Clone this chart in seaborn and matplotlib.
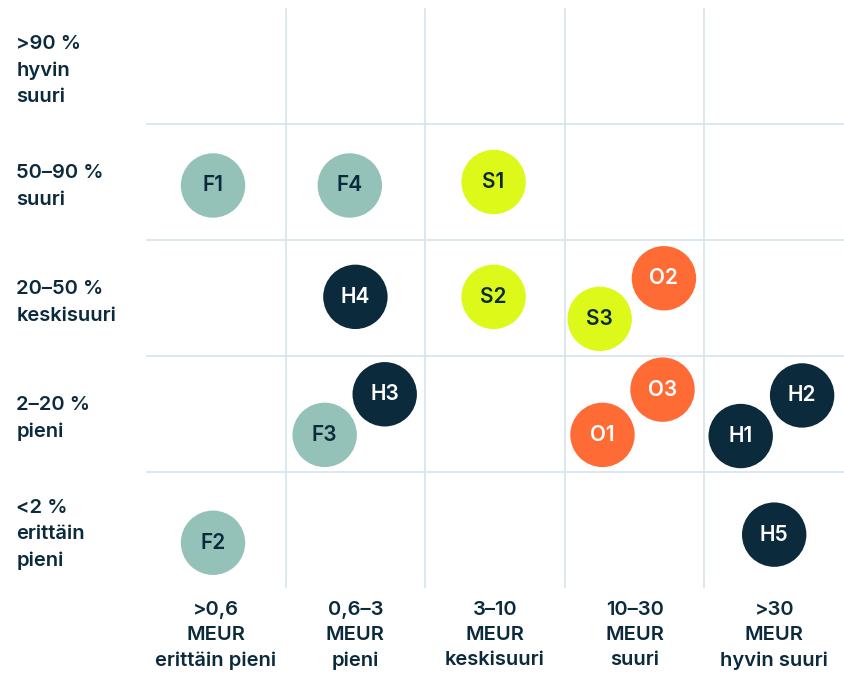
import matplotlib.pyplot as plt
import seaborn as sns
import pandas as pd

# columns: revenue class, rows: share class
x_labels = [">0,6\nMEUR\nerittäin pieni", "0,6–3\nMEUR\npieni", "3–10\nMEUR\nkeskisuuri",
            "10–30\nMEUR\nsuuri", ">30\nMEUR\nhyvin suuri"]
y_labels = ["<2 %\nerittäin\npieni", "2–20 %\npieni", "20–50 %\nkeskisuuri",
            "50–90 %\nsuuri", ">90 %\nhyvin\nsuuri"]

names = ["F1", "F4", "S1", "H4", "S2", "O2", "S3", "H3", "F3", "O3", "O1", "H2", "H1", "F2", "H5"]
xs = [0.48, 1.46, 2.49, 1.50, 2.49, 3.71, 3.25, 1.71, 1.28, 3.70, 3.27, 4.70, 4.26, 0.48, 4.50]
ys = [3.47, 3.47, 3.50, 2.51, 2.51, 2.67, 2.32, 1.67, 1.32, 1.71, 1.32, 1.66, 1.31, 0.39, 0.46]

colors = {"F": "#94C1B8", "H": "#0B2A3C", "S": "#DDF91A", "O": "#FF6B35"}
text_colors = {"F": "#0B2A3C", "H": "white", "S": "#0B2A3C", "O": "white"}

df = pd.DataFrame({"name": names, "x": xs, "y": ys})
df["group"] = df["name"].str[0]

sns.set_style("white")
plt.rcParams["font.family"] = ["Inter", "DejaVu Sans"]

fig = plt.figure(figsize=(8.44, 6.96), dpi=100)
ax = fig.add_axes([146 / 844, 108 / 696, 698 / 844, 580 / 696])
ax.set_xlim(0, 5)
ax.set_ylim(0, 5)

grid_color = "#D6E4EC"
for v in range(1, 5):
    ax.axvline(v, color=grid_color, lw=1.2, zorder=0)
    ax.axhline(v, color=grid_color, lw=1.2, zorder=0)

sns.scatterplot(data=df, x="x", y="y", hue="group", palette=colors, s=2150,
                linewidth=0, legend=False, ax=ax, zorder=3)

for _, r in df.iterrows():
    ax.text(r["x"], r["y"], r["name"], ha="center", va="center", fontsize=15,
            fontweight="semibold", color=text_colors[r["group"]], zorder=4)

for i, lab in enumerate(y_labels):
    ax.text(-0.186, i + 0.46, lab, transform=ax.get_yaxis_transform(), ha="left", va="center",
            fontsize=14.5, fontweight="semibold", color="#0B2A3C", linespacing=1.6)

for i, lab in enumerate(x_labels):
    ax.text(i + 0.5, -0.022, lab, transform=ax.get_xaxis_transform(), ha="center", va="top",
            fontsize=14.5, fontweight="semibold", color="#0B2A3C", linespacing=1.5)

ax.set_xticks([])
ax.set_yticks([])
ax.set_xlabel("")
ax.set_ylabel("")
sns.despine(ax=ax, left=True, bottom=True)

fig.savefig("out.png", dpi=100)
